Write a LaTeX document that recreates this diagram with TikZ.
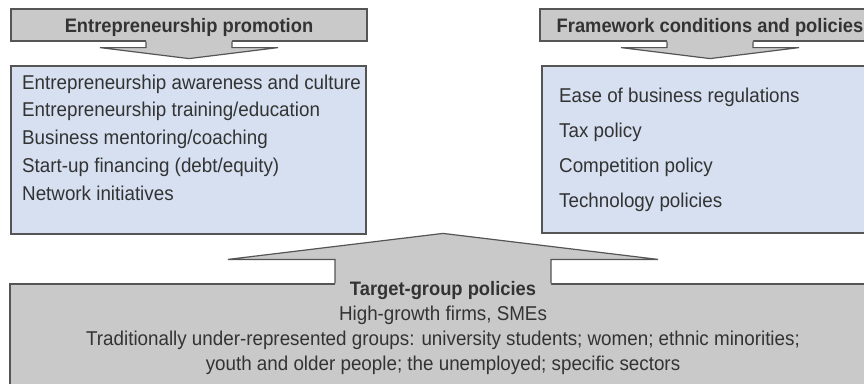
\documentclass[tikz,border=0pt]{standalone}
\usepackage{fontspec}
\setmainfont{Liberation Sans}[FakeStretch=0.94]
\usetikzlibrary{positioning, calc}
\definecolor{headgray}{RGB}{201,201,201}
\definecolor{boxblue}{RGB}{214,224,241}
\definecolor{edgegray}{RGB}{85,85,85}
\definecolor{inkgray}{RGB}{51,51,51}

\begin{document}
\begin{tikzpicture}[x=1pt, y=-1pt,
  headbox/.style={draw=edgegray, fill=headgray, line width=1.2pt, minimum height=32pt, inner sep=0pt, text height=14pt, text depth=0pt, text=inkgray, font=\bfseries\fontsize{19.5}{22}\selectfont},
  listbox/.style={draw=edgegray, fill=boxblue, line width=1.2pt, inner sep=0pt},
  item/.style={anchor=base west, inner sep=0pt, text=inkgray, font=\fontsize{20}{22}\selectfont},
  centreline/.style={anchor=base, inner sep=0pt, text=inkgray, font=\fontsize{20}{22}\selectfont},
  arrowedge/.style={draw=edgegray, line width=1.2pt, line join=miter}
]
\useasboundingbox (0,0) rectangle (864,383);
\clip (0,0) rectangle (864,383);

\node[listbox, minimum width=355pt, minimum height=168pt] (promolist) at (188.5,150) {};
\node[listbox, minimum width=338pt, minimum height=167pt] (framelist) at (711,149.5) {};
\node[headbox, minimum width=356pt] (promo) at (189,25) {Entrepreneurship promotion};
\node[headbox, minimum width=340pt] (frame) at (710,25) {Framework conditions and policies};
\node[draw=edgegray, fill=headgray, line width=1.2pt, minimum width=866pt, minimum height=116pt] (target) at (443,342) {};

\foreach \hd in {promo, frame} {
  \fill[headgray] ($(\hd.south)+(-43,-1.5)$) -- ++(0,7.5) -- ++(-46,0) -- ($(\hd.south)+(0,17)$)
    -- ($(\hd.south)+(89,6)$) -- ++(-46,0) -- ++(0,-7.5) -- cycle;
  \draw[arrowedge] ($(\hd.south)+(-43,0)$) -- ++(0,6) -- ++(-46,0) -- ($(\hd.south)+(0,17)$)
    -- ($(\hd.south)+(89,6)$) -- ++(-46,0) -- ++(0,-6);
}

\fill[headgray] ($(target.north)+(-108,1.5)$) -- ++(0,-25.5) -- ++(-107,0) -- ($(target.north)+(0,-50)$)
  -- ($(target.north)+(215,-24)$) -- ++(-107,0) -- ++(0,25.5) -- cycle;
\draw[arrowedge] ($(target.north)+(-108,0)$) -- ++(0,-24) -- ++(-107,0) -- ($(target.north)+(0,-50)$)
  -- ($(target.north)+(215,-24)$) -- ++(-107,0) -- ++(0,24);

\foreach \txt [count=\i] in {Entrepreneurship awareness and culture, Entrepreneurship training/education,
    Business mentoring/coaching, Start-up financing (debt/equity), Network initiatives}
  \node[item] (promo\i) at (22, 61.25+27.75*\i) {\txt};

\foreach \txt [count=\i] in {Ease of business regulations, Tax policy, Competition policy, Technology policies}
  \node[item] (frame\i) at (559, 67+35*\i) {\txt};

\node[centreline, font=\bfseries\fontsize{19.5}{22}\selectfont] (targethead) at (443,295) {Target-group policies};
\node[centreline] (target1) at (443,320) {High-growth firms, SMEs};
\node[centreline] (target2) at (443,345) {Traditionally under-represented groups: university students; women; ethnic minorities;};
\node[centreline] (target3) at (443,370) {youth and older people; the unemployed; specific sectors};
\end{tikzpicture}
\end{document}
